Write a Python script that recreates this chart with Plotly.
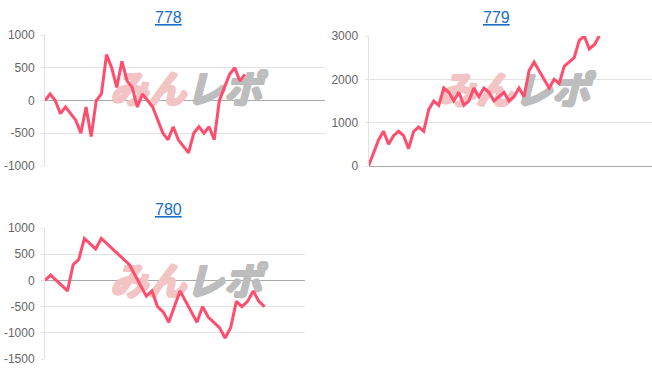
import plotly.graph_objects as go

W, H = 652, 382

titles = ["778", "779", "780"]

vals_778 = [0, 100, 0, -200, -100, -200, -300, -500, -100, -550, 0, 100, 700, 500, 200,
            600, 300, 200, -100, 100, 0, -100, -300, -500, -600, -400, -600, -700, -800,
            -500, -400, -500, -400, -600, 0, 200, 400, 500, 300, 400]
vals_779 = [0, 300, 600, 800, 500, 700, 800, 700, 400, 800, 900, 800, 1300, 1500, 1400,
            1800, 1700, 1500, 1700, 1400, 1500, 1800, 1600, 1800, 1700, 1500, 1600, 1700,
            1500, 1600, 1800, 1600, 2200, 2400, 2200, 2000, 1800, 2000, 1900, 2300, 2400,
            2500, 2900, 3000, 2700, 2800, 3000]
vals_780 = [0, 100, 0, -100, -200, 300, 400, 800, 700, 600, 800, 700, 600, 500, 400, 300,
            100, -100, -300, -200, -500, -600, -800, -500, -200, -400, -600, -800, -500,
            -700, -800, -900, -1100, -900, -400, -500, -400, -200, -400, -500]

ticks_778 = [-1000, -500, 0, 500, 1000]
ticks_779 = [0, 1000, 2000, 3000]
ticks_780 = [-1500, -1000, -500, 0, 500, 1000]

wm_left = "みん"
wm_right = "レポ"

series = [vals_778, vals_779, vals_780]
tickvals = [ticks_778, ticks_779, ticks_780]

# pixel boxes of plot areas (left, right, top, bottom)
boxes = [(45, 325, 35, 166), (368.5, 652, 36, 166), (45, 305, 228, 359)]
xmax = [54.6, 56.5, 46.2]
yranges = [(-1000, 1000), (0, 3000), (-1500, 1000)]
title_pos = [(168, 17), (496, 17), (168, 209)]
wm_pos = [(186, 93), (514, 94), (186, 285)]

LINE = "#ff4d6d"


def thick(c):
    return ", ".join(f"{dx}px {dy}px 0 {c}" for dx, dy in
                     [(1, 0), (-1, 0), (0, 1), (0, -1), (1, 1), (-1, -1), (1, -1), (-1, 1)])


fig = go.Figure()
layout = dict(
    width=W, height=H, margin=dict(l=0, r=0, t=0, b=0, pad=0, autoexpand=False),
    paper_bgcolor="white", plot_bgcolor="white", showlegend=False,
    font=dict(family="Liberation Sans, Arial, sans-serif", size=12, color="#666"),
)
annotations = []
for i, vals in enumerate(series):
    xa = "x" if i == 0 else f"x{i+1}"
    ya = "y" if i == 0 else f"y{i+1}"
    l, r, t, b = boxes[i]
    y0, y1 = yranges[i]
    wx, wy = wm_pos[i]
    xd = (wx - l) / (r - l) * xmax[i]
    yd = y0 + (b - wy) / (b - t) * (y1 - y0)
    fig.add_trace(go.Scatter(x=[xd], y=[yd], mode="text", text=[wm_left],
                             textposition="middle left", xaxis=xa, yaxis=ya,
                             hoverinfo="skip", cliponaxis=False,
                             textfont=dict(size=38, color="#f2c4c4", family="Noto Sans CJK JP",
                                           style="italic", weight="bold",
                                           shadow=thick("#f2c4c4"))))
    fig.add_trace(go.Scatter(x=[xd], y=[yd], mode="text", text=[wm_right],
                             textposition="middle right", xaxis=xa, yaxis=ya,
                             hoverinfo="skip", cliponaxis=False,
                             textfont=dict(size=38, color="#bdbdbd", family="Noto Sans CJK JP",
                                           style="italic", weight="bold",
                                           shadow=thick("#bdbdbd"))))
    fig.add_trace(go.Scatter(x=list(range(len(vals))), y=vals, mode="lines",
                             line=dict(color=LINE, width=3), xaxis=xa, yaxis=ya,
                             hoverinfo="skip"))
    key = "" if i == 0 else str(i + 1)
    layout["xaxis" + key] = dict(domain=[l / W, r / W], range=[0, xmax[i]],
                                 showgrid=False, showticklabels=False, zeroline=False,
                                 showline=False, anchor=ya, automargin=False)
    layout["yaxis" + key] = dict(domain=[1 - b / H, 1 - t / H], range=list(yranges[i]),
                                 tickvals=tickvals[i],
                                 ticktext=[str(v) for v in tickvals[i]],
                                 showgrid=True, gridcolor="#e3e3e3", gridwidth=1,
                                 zeroline=True, zerolinecolor="#aaaaaa", zerolinewidth=1,
                                 showline=True, linecolor="#e3e3e3", linewidth=1,
                                 ticks="outside", ticklen=3, tickcolor="#e3e3e3",
                                 ticklabelstandoff=4, automargin=False,
                                 tickfont=dict(size=12, color="#666"), anchor=xa)
    tx, ty = title_pos[i]
    annotations.append(dict(text="<u>" + titles[i] + "</u>", x=tx / W, y=1 - ty / H,
                            xref="paper", yref="paper", showarrow=False,
                            xanchor="center", yanchor="middle",
                            font=dict(size=16, color="#1a6dcc",
                                      family="Liberation Sans, Arial, sans-serif")))
layout["annotations"] = annotations
fig.update_layout(**layout)
fig.write_html("out.html")
